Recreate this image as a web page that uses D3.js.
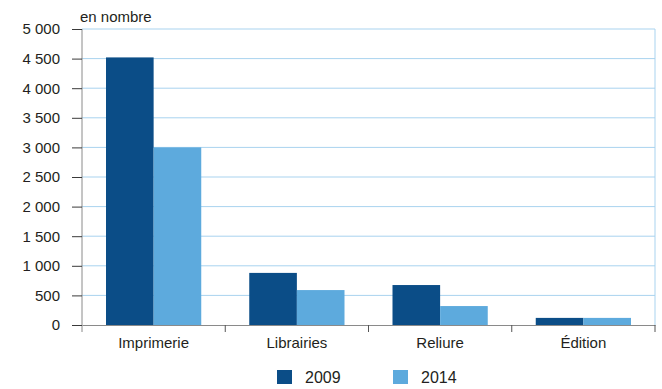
<!DOCTYPE html>
<html>
<head>
<meta charset="utf-8">
<script src="https://cdn.jsdelivr.net/npm/d3@7"></script>
<style>
  body { margin: 0; background: #fff; }
  text { font-family: "Liberation Sans", Arial, sans-serif; fill: #231f20; }
</style>
</head>
<body>
<svg id="chart"></svg>
<script>
var categories = ['Imprimerie', 'Librairies', 'Reliure', 'Édition'];
var years = ['2009', '2014'];
var values2009 = [4520, 880, 675, 120];
var values2014 = [3000, 590, 320, 120];
var yTicks = [0, 500, 1000, 1500, 2000, 2500, 3000, 3500, 4000, 4500, 5000];

var width = 662, height = 389,
    plotLeft = 82, plotRight = 655, plotTop = 29, plotBottom = 325,
    colors = ['#0b4d87', '#5daadd'];

var svg = d3.select('#chart').attr('width', width).attr('height', height);

var x = d3.scaleBand().domain(categories).range([plotLeft, plotRight]).paddingInner(0).paddingOuter(0);
var x1 = d3.scaleBand().domain(years).range([24, x.bandwidth() - 24]);
var y = d3.scaleLinear().domain([0, 5000]).range([plotBottom, plotTop]);

var fmt = function(d) { return d3.format(',')(d).replace(/,/g, ' '); };

// grid
svg.append('g').selectAll('line')
  .data(yTicks.filter(function(d) { return d > 0; }))
  .enter().append('line')
  .attr('x1', plotLeft).attr('x2', plotRight)
  .attr('y1', function(d) { return y(d); }).attr('y2', function(d) { return y(d); })
  .attr('stroke', '#a9d3ef').attr('stroke-width', 1);
svg.append('line')
  .attr('x1', plotRight).attr('x2', plotRight).attr('y1', plotTop).attr('y2', plotBottom)
  .attr('stroke', '#a9d3ef');

// bars
var rows = categories.map(function(c, i) { return {cat: c, vals: [values2009[i], values2014[i]]}; });
var groups = svg.append('g').selectAll('g').data(rows).enter().append('g')
  .attr('transform', function(d) { return 'translate(' + x(d.cat) + ',0)'; });
groups.selectAll('rect')
  .data(function(d) { return d.vals.map(function(v, j) { return {year: years[j], v: v}; }); })
  .enter().append('rect')
  .attr('x', function(d) { return x1(d.year); })
  .attr('width', x1.bandwidth())
  .attr('y', function(d) { return y(d.v); })
  .attr('height', function(d) { return plotBottom - y(d.v); })
  .attr('fill', function(d, j) { return colors[j]; });

// y axis
var yAxis = svg.append('g').attr('transform', 'translate(' + plotLeft + ',0)')
  .call(d3.axisLeft(y).tickValues(yTicks).tickFormat(fmt).tickSize(10).tickPadding(12));
yAxis.select('.domain').attr('stroke', '#8a8a8a').attr('d', 'M0,' + plotTop + 'V' + (plotBottom + 7));
yAxis.selectAll('.tick line').attr('stroke', '#3a3a3a');
yAxis.selectAll('.tick text').attr('font-size', 15)
  .style('font-family', '"Liberation Sans", Arial, sans-serif').attr('fill', '#231f20');

// x axis
var xAxis = svg.append('g').attr('transform', 'translate(0,' + plotBottom + ')')
  .call(d3.axisBottom(x).tickSize(0).tickPadding(12));
xAxis.select('.domain').attr('stroke', '#8a8a8a');
xAxis.selectAll('.tick text').attr('font-size', 15)
  .style('font-family', '"Liberation Sans", Arial, sans-serif').attr('fill', '#231f20');
svg.append('g').selectAll('line')
  .data(categories.slice(1).concat(['end']))
  .enter().append('line')
  .attr('x1', function(d) { return d === 'end' ? plotRight : x(d); })
  .attr('x2', function(d) { return d === 'end' ? plotRight : x(d); })
  .attr('y1', plotBottom).attr('y2', plotBottom + 7)
  .attr('stroke', '#555');

// unit label
svg.append('text').attr('x', 80).attr('y', 22).attr('font-size', 15).text('en nombre');

// legend
var legend = svg.append('g').selectAll('g').data(years).enter().append('g')
  .attr('transform', function(d, i) { return 'translate(' + (277 + i * 116) + ',370)'; });
legend.append('rect').attr('width', 15).attr('height', 14)
  .attr('fill', function(d, i) { return colors[i]; });
legend.append('text').attr('x', 28).attr('y', 13).attr('font-size', 16).text(function(d) { return d; });
</script>
</body>
</html>
